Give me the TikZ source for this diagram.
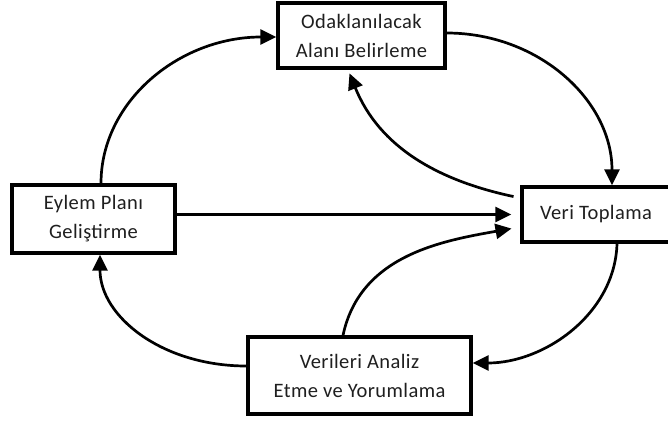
\documentclass[tikz,border=0pt]{standalone}
\usepackage{fontspec}
\setmainfont{Carlito}[LetterSpace=2]
\usetikzlibrary{arrows.meta}
\begin{document}
\begin{tikzpicture}[x=1pt,y=1pt,
  stage/.style={draw=black, line width=3.3pt, fill=white, align=center,
    inner sep=0pt, text=black!88,
    font=\fontsize{20.5}{29}\selectfont},
  flow/.style={line width=2.7pt, -{Triangle[length=16pt,width=15pt]}}]
\useasboundingbox (0,0) rectangle (668,421);
\fill[white] (0,0) rectangle (668,421);

% cycle stages
\node[stage, minimum width=167pt, minimum height=65pt] (focus) at (361.5,385.5)
  {Odaklanılacak\\Alanı Belirleme};
\node[stage, minimum width=163pt, minimum height=68pt] (plan) at (93.5,202)
  {Eylem Planı\\Geliştirme};
\node[stage, minimum width=153pt, minimum height=55pt] (collect) at (598.5,206.5)
  {\hspace*{-5pt}Veri Toplama};
\node[stage, minimum width=223pt, minimum height=77pt] (analyse) at (359.5,45.5)
  {Verileri Analiz\\Etme ve Yorumlama};

% outer loop
\draw[flow] ([xshift=7.5pt]plan.north) .. controls +(0,82) and +(-97,0) ..
  ([yshift=-1.5pt]focus.west);
\draw[flow] ([yshift=2.5pt]focus.east) .. controls +(92,0) and +(0,85) ..
  ([xshift=13.5pt]collect.north);
\draw[flow] ([xshift=18.5pt]collect.south) .. controls +(-2,-70) and +(72,0) ..
  ([yshift=12.5pt]analyse.east);
\draw[flow] ([yshift=9.5pt]analyse.west) .. controls +(-84,0) and +(0,-62) ..
  ([xshift=6.5pt]plan.south);

% inner links
\draw[flow, shorten <=7pt, shorten >=4pt] ([yshift=16.5pt]collect.west)
  to[out=168,in=-68] ([xshift=-13.5pt]focus.south);
\draw[flow, shorten >=9pt] (plan.east |- collect.west) -- (collect.west);
\draw[flow, shorten >=9pt] ([xshift=-16.5pt]analyse.north)
  to[out=78,in=190] ([yshift=-12.5pt]collect.west);
\end{tikzpicture}
\end{document}
